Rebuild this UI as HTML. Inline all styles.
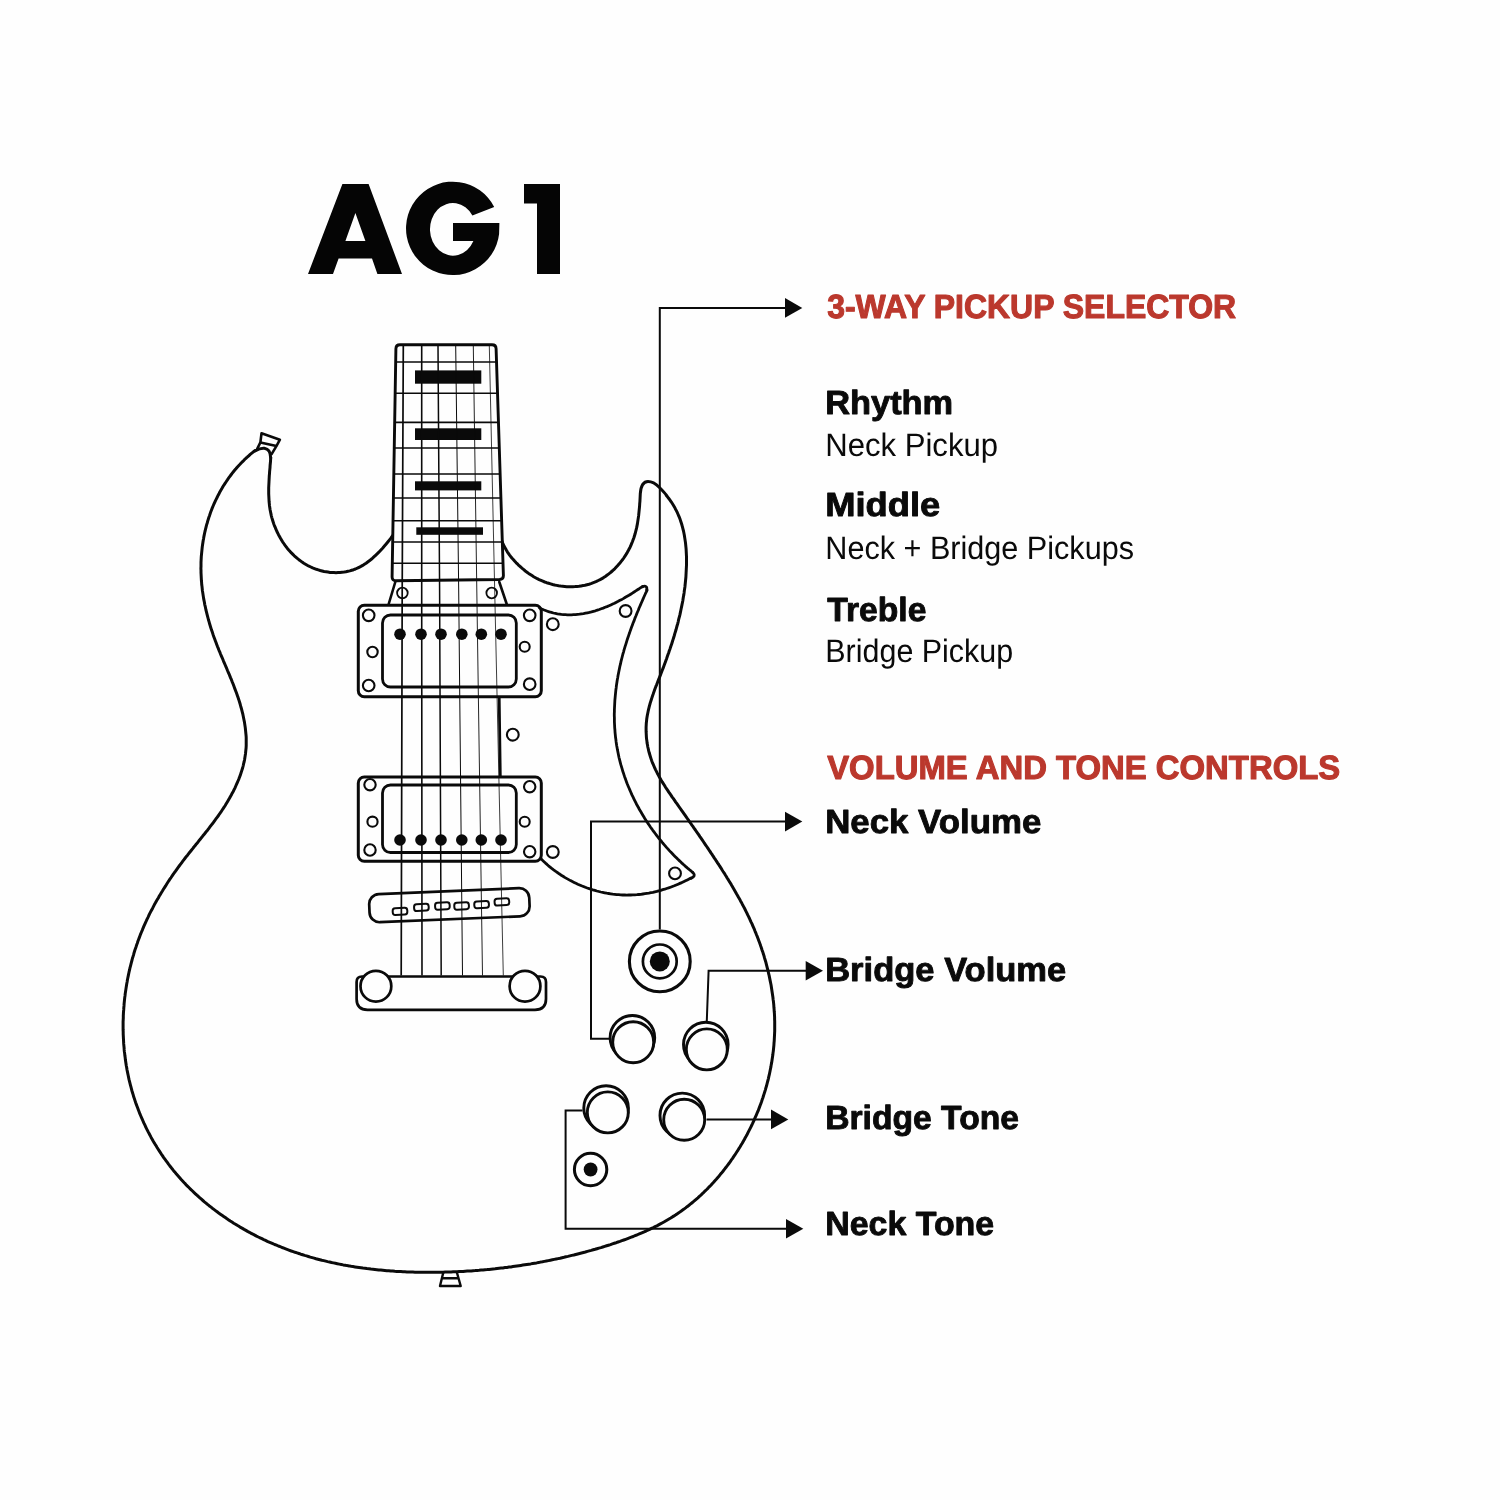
<!DOCTYPE html>
<html lang="en"><head><meta charset="utf-8"><title>AG1</title>
<style>
html,body{margin:0;padding:0;background:#fefefe;}
body{width:1500px;height:1500px;overflow:hidden;font-family:"Liberation Sans",sans-serif;}
svg{display:block;}
</style></head><body>
<svg width="1500" height="1500" viewBox="0 0 1500 1500">
<defs><filter id="nf" x="0" y="0" width="1500" height="1500" filterUnits="userSpaceOnUse"><feOffset dx="0" dy="0"/></filter></defs>
<rect width="1500" height="1500" fill="#fefefe"/>
<g fill="none" stroke="#0a0a0a" stroke-linecap="round" stroke-linejoin="round">
<path d="M502.0 541.2L502.7 543.0L503.5 544.8L504.3 546.6L505.3 548.3L506.3 550.1L507.3 551.8L508.4 553.4L509.6 555.1L510.8 556.7L512.1 558.3L513.5 559.8L514.8 561.3L516.2 562.8L517.7 564.2L519.1 565.7L520.7 567.0L522.2 568.4L523.8 569.7L525.3 571.0L527.0 572.2L528.6 573.4L530.3 574.5L532.0 575.6L533.7 576.7L535.5 577.7L537.3 578.7L539.1 579.6L541.0 580.4L542.8 581.2L544.7 582.0L546.7 582.7L548.6 583.3L550.6 583.9L552.6 584.5L554.6 585.0L556.6 585.4L558.6 585.8L560.6 586.1L562.7 586.3L564.7 586.5L566.8 586.7L568.8 586.7L570.9 586.7L572.9 586.7L575.0 586.6L577.0 586.4L579.0 586.2L581.1 585.9L583.1 585.6L585.0 585.2L587.0 584.7L589.0 584.2L590.9 583.6L592.8 582.9L594.7 582.2L596.5 581.4L598.3 580.5L600.1 579.6L601.9 578.6L603.6 577.6L605.3 576.5L606.9 575.3L608.5 574.1L610.1 572.9L611.7 571.5L613.2 570.2L614.7 568.8L616.1 567.3L617.5 565.8L618.8 564.3L620.2 562.7L621.4 561.1L622.7 559.5L623.9 557.8L625.0 556.1L626.1 554.4L627.2 552.6L628.2 550.8L629.1 549.0L630.1 547.2L630.9 545.3L631.7 543.4L632.5 541.5L633.2 539.6L633.9 537.7L634.5 535.8L635.1 533.8L635.6 531.9L636.1 529.9L636.6 527.9L637.0 525.9L637.4 523.9L637.7 521.9L638.0 519.9L638.3 517.9L638.6 515.9L638.8 513.9L639.0 511.8L639.2 509.8L639.4 507.8L639.6 505.8L639.7 503.7L639.9 501.7L640.0 499.7L640.1 497.7L640.2 495.6L640.3 493.6C640.9 486 643.5 481.6 648 481.6C652.5 481.6 656.5 484.5 659.2 487.2C662 490 664.6 492.6 666.4 495.2L666.2 495.2L667.5 496.8L668.8 498.5L670.0 500.1L671.2 501.8L672.3 503.5L673.4 505.2L674.4 506.9L675.3 508.7L676.2 510.4L677.1 512.2L677.9 514.0L678.7 515.9L679.5 517.7L680.2 519.6L680.8 521.5L681.4 523.3L682.0 525.3L682.5 527.2L683.0 529.1L683.5 531.0L683.9 533.0L684.3 535.0L684.6 536.9L684.9 538.9L685.2 540.9L685.5 542.9L685.7 544.9L685.9 546.9L686.1 548.9L686.2 550.9L686.3 552.9L686.4 554.9L686.5 556.9L686.5 559.0L686.5 561.0L686.5 563.0L686.5 565.0L686.4 567.0L686.3 569.0L686.2 571.0L686.1 573.0L686.0 575.0L685.9 577.0L685.7 579.0L685.5 581.0L685.3 583.0L685.1 585.0L684.9 587.0L684.6 588.9L684.3 590.9L684.1 592.9L683.8 594.9L683.4 596.8L683.1 598.8L682.8 600.7L682.4 602.7L682.0 604.6L681.6 606.6L681.2 608.5L680.8 610.5L680.4 612.4L680.0 614.4L679.5 616.3L679.0 618.2L678.5 620.2L678.1 622.1L677.6 624.0L677.0 626.0L676.5 627.9L676.0 629.8L675.4 631.7L674.8 633.6L674.3 635.5L673.7 637.5L673.1 639.4L672.5 641.3L671.9 643.2L671.3 645.1L670.6 647.0L670.0 648.9L669.3 650.8L668.7 652.7L668.0 654.6L667.3 656.5L666.7 658.4L666.0 660.3L665.3 662.2L664.6 664.1L663.9 666.0L663.2 667.9L662.4 669.8L661.7 671.6L661.0 673.5L660.3 675.4L659.5 677.3L658.8 679.2L658.0 681.1L657.3 683.0L656.6 684.8L655.8 686.7L655.1 688.6L654.4 690.5L653.7 692.4L653.1 694.3L652.4 696.2L651.8 698.1L651.2 700.0L650.6 701.9L650.0 703.8L649.5 705.7L649.0 707.7L648.5 709.6L648.1 711.5L647.7 713.5L647.3 715.4L647.0 717.3L646.7 719.3L646.5 721.3L646.3 723.2L646.2 725.2L646.1 727.2L646.1 729.2L646.1 731.2L646.2 733.1L646.3 735.1L646.4 737.1L646.6 739.1L646.9 741.1L647.1 743.1L647.5 745.0L647.8 747.0L648.3 749.0L648.7 750.9L649.2 752.8L649.8 754.8L650.4 756.7L651.0 758.6L651.6 760.4L652.3 762.3L653.1 764.1L653.9 766.0L654.7 767.8L655.5 769.6L656.4 771.4L657.3 773.2L658.2 774.9L659.2 776.7L660.2 778.4L661.2 780.2L662.2 781.9L663.3 783.6L664.4 785.3L665.4 787.0L666.5 788.7L667.7 790.4L668.8 792.1L669.9 793.7L671.1 795.4L672.2 797.1L673.4 798.7L674.6 800.4L675.7 802.1L676.9 803.7L678.1 805.4L679.2 807.0L680.4 808.7L681.6 810.3L682.7 811.9L683.9 813.6L685.0 815.2L686.2 816.9L687.3 818.5L688.5 820.2L689.6 821.8L690.8 823.5L691.9 825.1L693.1 826.7L694.2 828.4L695.4 830.0L696.5 831.7L697.7 833.3L698.8 834.9L699.9 836.6L701.0 838.2L702.2 839.9L703.3 841.5L704.4 843.2L705.5 844.8L706.7 846.5L707.8 848.1L708.9 849.8L710.0 851.4L711.1 853.1L712.2 854.7L713.3 856.4L714.4 858.1L715.5 859.7L716.6 861.4L717.7 863.1L718.8 864.7L719.9 866.4L721.0 868.1L722.0 869.8L723.1 871.5L724.2 873.1L725.2 874.8L726.3 876.5L727.3 878.2L728.4 879.9L729.4 881.6L730.5 883.3L731.5 885.1L732.5 886.8L733.5 888.5L734.5 890.2L735.5 891.9L736.5 893.7L737.5 895.4L738.5 897.2L739.5 898.9L740.4 900.7L741.4 902.4L742.3 904.2L743.2 905.9L744.2 907.7L745.1 909.5L746.0 911.3L746.9 913.1L747.7 914.9L748.6 916.7L749.5 918.5L750.3 920.3L751.1 922.1L752.0 923.9L752.8 925.8L753.6 927.6L754.4 929.4L755.1 931.3L755.9 933.2L756.6 935.0L757.4 936.9L758.1 938.8L758.8 940.7L759.5 942.5L760.2 944.4L760.8 946.3L761.5 948.2L762.1 950.2L762.8 952.1L763.4 954.0L764.0 955.9L764.5 957.9L765.1 959.8L765.7 961.7L766.2 963.7L766.7 965.6L767.2 967.6L767.7 969.5L768.2 971.5L768.6 973.5L769.1 975.4L769.5 977.4L769.9 979.4L770.3 981.4L770.7 983.3L771.1 985.3L771.4 987.3L771.7 989.3L772.0 991.3L772.3 993.3L772.6 995.2L772.9 997.2L773.1 999.2L773.4 1001.2L773.6 1003.2L773.8 1005.2L773.9 1007.2L774.1 1009.2L774.2 1011.2L774.4 1013.2L774.5 1015.2L774.6 1017.2L774.6 1019.2L774.7 1021.2L774.7 1023.2L774.7 1025.2L774.7 1027.2L774.7 1029.2L774.7 1031.2L774.6 1033.2L774.5 1035.2L774.4 1037.2L774.3 1039.2L774.2 1041.2L774.0 1043.2L773.9 1045.2L773.7 1047.1L773.5 1049.1L773.3 1051.1L773.0 1053.1L772.8 1055.1L772.5 1057.0L772.2 1059.0L771.9 1061.0L771.6 1062.9L771.2 1064.9L770.9 1066.9L770.5 1068.8L770.1 1070.8L769.7 1072.7L769.3 1074.7L768.8 1076.6L768.4 1078.6L767.9 1080.5L767.4 1082.4L766.9 1084.3L766.4 1086.3L765.8 1088.2L765.3 1090.1L764.7 1092.0L764.1 1093.9L763.5 1095.8L762.9 1097.7L762.2 1099.6L761.6 1101.5L760.9 1103.4L760.2 1105.3L759.5 1107.1L758.8 1109.0L758.1 1110.9L757.3 1112.7L756.5 1114.6L755.7 1116.4L754.9 1118.2L754.1 1120.1L753.3 1121.9L752.5 1123.7L751.6 1125.5L750.7 1127.3L749.8 1129.1L748.9 1130.9L748.0 1132.7L747.1 1134.5L746.1 1136.3L745.1 1138.0L744.2 1139.8L743.2 1141.5L742.2 1143.3L741.1 1145.0L740.1 1146.7L739.0 1148.4L738.0 1150.1L736.9 1151.8L735.8 1153.5L734.7 1155.2L733.5 1156.9L732.4 1158.6L731.2 1160.2L730.1 1161.9L728.9 1163.5L727.7 1165.1L726.5 1166.7L725.2 1168.3L724.0 1169.9L722.8 1171.5L721.5 1173.1L720.2 1174.6L718.9 1176.2L717.6 1177.7L716.3 1179.2L714.9 1180.7L713.6 1182.2L712.2 1183.7L710.9 1185.2L709.5 1186.6L708.1 1188.1L706.7 1189.5L705.2 1190.9L703.8 1192.3L702.3 1193.7L700.9 1195.1L699.4 1196.4L697.9 1197.8L696.4 1199.1L694.9 1200.4L693.4 1201.7L691.8 1203.0L690.3 1204.2L688.7 1205.5L687.1 1206.7L685.6 1207.9L684.0 1209.1L682.3 1210.3L680.7 1211.4L679.1 1212.6L677.4 1213.7L675.8 1214.8L674.1 1215.9L672.4 1216.9L670.7 1218.0L669.0 1219.0L667.3 1220.0L665.6 1221.0L663.9 1222.0L662.1 1223.0L660.4 1223.9L658.6 1224.9L656.9 1225.8L655.1 1226.7L653.3 1227.6L651.5 1228.4L649.7 1229.3L647.9 1230.1L646.1 1231.0L644.2 1231.8L642.4 1232.6L640.6 1233.4L638.7 1234.2L636.9 1235.0L635.0 1235.7L633.2 1236.5L631.3 1237.2L629.4 1237.9L627.6 1238.6L625.7 1239.3L623.8 1240.0L621.9 1240.7L620.0 1241.4L618.1 1242.0L616.2 1242.7L614.3 1243.3L612.4 1243.9L610.5 1244.6L608.5 1245.2L606.6 1245.8L604.7 1246.4L602.8 1247.0L600.9 1247.6L598.9 1248.1L597.0 1248.7L595.1 1249.3L593.2 1249.8L591.2 1250.4L589.3 1250.9L587.4 1251.4L585.4 1252.0L583.5 1252.5L581.5 1253.0L579.6 1253.5L577.7 1254.0L575.7 1254.5L573.8 1255.0L571.8 1255.4L569.9 1255.9L567.9 1256.4L566.0 1256.8L564.0 1257.3L562.1 1257.7L560.1 1258.2L558.2 1258.6L556.2 1259.0L554.3 1259.4L552.3 1259.8L550.4 1260.2L548.4 1260.6L546.4 1261.0L544.5 1261.4L542.5 1261.8L540.6 1262.1L538.6 1262.5L536.6 1262.9L534.7 1263.2L532.7 1263.5L530.7 1263.9L528.8 1264.2L526.8 1264.5L524.8 1264.8L522.8 1265.1L520.9 1265.4L518.9 1265.7L516.9 1266.0L514.9 1266.3L512.9 1266.6L511.0 1266.9L509.0 1267.1L507.0 1267.4L505.0 1267.6L503.0 1267.9L501.1 1268.1L499.1 1268.3L497.1 1268.5L495.1 1268.8L493.1 1269.0L491.1 1269.2L489.1 1269.4L487.1 1269.6L485.1 1269.7L483.1 1269.9L481.1 1270.1L479.1 1270.3L477.2 1270.4L475.2 1270.6L473.2 1270.7L471.2 1270.9L469.2 1271.0L467.2 1271.1L465.2 1271.2L463.1 1271.4L461.1 1271.5L459.1 1271.6L457.1 1271.7L455.1 1271.8L453.1 1271.8L451.1 1271.9L449.1 1272.0L447.1 1272.1L445.1 1272.1L443.1 1272.2L441.1 1272.2L439.1 1272.3L437.0 1272.3L435.0 1272.3L433.0 1272.3L431.0 1272.3L429.0 1272.3L427.0 1272.3L425.0 1272.3L423.0 1272.3L421.0 1272.3L418.9 1272.3L416.9 1272.2L414.9 1272.2L412.9 1272.1L410.9 1272.0L408.9 1272.0L406.9 1271.9L404.9 1271.8L402.9 1271.7L400.9 1271.6L398.8 1271.5L396.8 1271.4L394.8 1271.3L392.8 1271.1L390.8 1271.0L388.8 1270.8L386.8 1270.7L384.8 1270.5L382.8 1270.3L380.8 1270.1L378.8 1269.9L376.8 1269.7L374.9 1269.5L372.9 1269.3L370.9 1269.1L368.9 1268.8L366.9 1268.6L364.9 1268.3L362.9 1268.1L361.0 1267.8L359.0 1267.5L357.0 1267.2L355.0 1266.9L353.0 1266.6L351.1 1266.3L349.1 1265.9L347.1 1265.6L345.2 1265.2L343.2 1264.9L341.3 1264.5L339.3 1264.1L337.3 1263.7L335.4 1263.3L333.4 1262.9L331.5 1262.5L329.6 1262.0L327.6 1261.6L325.7 1261.1L323.7 1260.6L321.8 1260.2L319.9 1259.7L317.9 1259.2L316.0 1258.7L314.1 1258.1L312.2 1257.6L310.3 1257.1L308.4 1256.5L306.5 1255.9L304.6 1255.4L302.7 1254.8L300.8 1254.2L298.9 1253.5L297.0 1252.9L295.1 1252.3L293.2 1251.6L291.3 1251.0L289.5 1250.3L287.6 1249.6L285.7 1248.9L283.9 1248.2L282.0 1247.5L280.2 1246.7L278.3 1246.0L276.5 1245.2L274.6 1244.5L272.8 1243.7L271.0 1242.9L269.1 1242.1L267.3 1241.3L265.5 1240.4L263.7 1239.6L261.9 1238.7L260.1 1237.8L258.3 1237.0L256.5 1236.1L254.7 1235.1L252.9 1234.2L251.2 1233.3L249.4 1232.3L247.6 1231.4L245.9 1230.4L244.1 1229.4L242.4 1228.4L240.6 1227.4L238.9 1226.3L237.2 1225.3L235.5 1224.2L233.7 1223.2L232.0 1222.1L230.3 1221.0L228.7 1219.9L227.0 1218.8L225.3 1217.6L223.7 1216.5L222.0 1215.3L220.4 1214.2L218.7 1213.0L217.1 1211.8L215.5 1210.6L213.9 1209.4L212.3 1208.2L210.7 1206.9L209.1 1205.7L207.5 1204.4L206.0 1203.1L204.4 1201.8L202.9 1200.5L201.4 1199.2L199.9 1197.9L198.4 1196.5L196.9 1195.2L195.4 1193.8L193.9 1192.4L192.5 1191.0L191.0 1189.6L189.6 1188.2L188.2 1186.8L186.7 1185.4L185.4 1183.9L184.0 1182.5L182.6 1181.0L181.2 1179.5L179.9 1178.0L178.6 1176.5L177.3 1175.0L176.0 1173.5L174.7 1171.9L173.4 1170.4L172.1 1168.8L170.9 1167.2L169.7 1165.7L168.5 1164.1L167.3 1162.4L166.1 1160.8L164.9 1159.2L163.7 1157.6L162.6 1155.9L161.5 1154.3L160.4 1152.6L159.3 1150.9L158.2 1149.2L157.1 1147.5L156.1 1145.8L155.0 1144.1L154.0 1142.4L153.0 1140.7L152.0 1138.9L151.0 1137.2L150.1 1135.4L149.1 1133.6L148.2 1131.9L147.3 1130.1L146.4 1128.3L145.5 1126.5L144.7 1124.7L143.8 1122.9L143.0 1121.0L142.2 1119.2L141.4 1117.4L140.6 1115.5L139.8 1113.7L139.1 1111.8L138.4 1110.0L137.7 1108.1L137.0 1106.2L136.3 1104.4L135.6 1102.5L135.0 1100.6L134.4 1098.7L133.7 1096.8L133.2 1094.9L132.6 1093.0L132.0 1091.0L131.5 1089.1L131.0 1087.2L130.5 1085.3L130.0 1083.3L129.5 1081.4L129.0 1079.4L128.6 1077.5L128.2 1075.5L127.8 1073.6L127.4 1071.6L127.0 1069.7L126.7 1067.7L126.3 1065.7L126.0 1063.8L125.7 1061.8L125.4 1059.8L125.2 1057.8L124.9 1055.8L124.7 1053.9L124.4 1051.9L124.2 1049.9L124.1 1047.9L123.9 1045.9L123.7 1043.9L123.6 1041.9L123.5 1039.9L123.4 1037.9L123.3 1035.9L123.2 1033.9L123.2 1031.9L123.1 1029.9L123.1 1027.9L123.1 1025.9L123.1 1023.9L123.1 1021.9L123.2 1019.9L123.3 1017.9L123.3 1015.9L123.4 1013.9L123.5 1011.9L123.7 1009.9L123.8 1007.9L124.0 1005.9L124.1 1003.9L124.3 1001.9L124.5 999.9L124.7 997.9L125.0 995.9L125.2 993.9L125.5 991.9L125.8 989.9L126.1 987.9L126.4 986.0L126.7 984.0L127.1 982.0L127.4 980.0L127.8 978.0L128.2 976.1L128.6 974.1L129.0 972.2L129.5 970.2L129.9 968.2L130.4 966.3L130.9 964.3L131.4 962.4L131.9 960.5L132.4 958.5L133.0 956.6L133.6 954.7L134.1 952.7L134.7 950.8L135.3 948.9L136.0 947.0L136.6 945.1L137.3 943.2L137.9 941.3L138.6 939.4L139.3 937.6L140.0 935.7L140.7 933.8L141.5 932.0L142.3 930.1L143.0 928.3L143.8 926.4L144.6 924.6L145.4 922.8L146.3 920.9L147.1 919.1L148.0 917.3L148.8 915.5L149.7 913.7L150.6 911.9L151.5 910.2L152.5 908.4L153.4 906.6L154.3 904.8L155.3 903.1L156.3 901.3L157.3 899.6L158.3 897.9L159.3 896.1L160.3 894.4L161.3 892.7L162.4 891.0L163.4 889.3L164.5 887.6L165.6 885.9L166.6 884.2L167.7 882.5L168.8 880.8L169.9 879.2L171.1 877.5L172.2 875.8L173.3 874.2L174.5 872.5L175.7 870.9L176.8 869.3L178.0 867.6L179.2 866.0L180.4 864.4L181.6 862.8L182.8 861.2L184.0 859.6L185.2 858.0L186.4 856.4L187.7 854.9L188.9 853.3L190.2 851.7L191.4 850.2L192.7 848.6L193.9 847.0L195.2 845.5L196.4 843.9L197.7 842.4L198.9 840.8L200.2 839.3L201.4 837.7L202.7 836.1L204.0 834.6L205.2 833.0L206.4 831.4L207.7 829.9L208.9 828.3L210.1 826.7L211.3 825.1L212.6 823.5L213.8 821.9L214.9 820.3L216.1 818.7L217.3 817.1L218.5 815.5L219.6 813.8L220.8 812.2L221.9 810.5L223.0 808.8L224.1 807.2L225.2 805.5L226.2 803.8L227.3 802.0L228.3 800.3L229.3 798.6L230.3 796.8L231.3 795.0L232.2 793.2L233.2 791.5L234.1 789.7L235.0 787.8L235.8 786.0L236.6 784.2L237.4 782.3L238.2 780.5L239.0 778.6L239.7 776.7L240.4 774.9L241.0 773.0L241.6 771.1L242.2 769.2L242.8 767.2L243.3 765.3L243.7 763.4L244.2 761.5L244.6 759.5L244.9 757.6L245.2 755.6L245.5 753.7L245.7 751.7L245.9 749.7L246.1 747.8L246.2 745.8L246.2 743.8L246.2 741.8L246.2 739.8L246.2 737.8L246.1 735.8L245.9 733.9L245.7 731.9L245.5 729.9L245.3 727.9L245.0 725.9L244.7 723.9L244.4 721.9L244.0 720.0L243.6 718.0L243.2 716.0L242.8 714.0L242.3 712.1L241.8 710.1L241.3 708.2L240.7 706.2L240.2 704.3L239.6 702.3L239.0 700.4L238.4 698.5L237.7 696.6L237.1 694.7L236.4 692.8L235.7 690.9L235.0 689.1L234.3 687.2L233.6 685.3L232.9 683.5L232.1 681.6L231.4 679.7L230.6 677.9L229.9 676.1L229.1 674.2L228.3 672.4L227.5 670.5L226.8 668.7L226.0 666.9L225.2 665.0L224.4 663.2L223.6 661.3L222.9 659.5L222.1 657.7L221.3 655.8L220.5 654.0L219.8 652.1L219.0 650.3L218.3 648.4L217.5 646.6L216.8 644.7L216.1 642.8L215.4 641.0L214.7 639.1L214.0 637.2L213.3 635.3L212.7 633.4L212.1 631.5L211.4 629.6L210.8 627.7L210.2 625.8L209.6 623.8L209.1 621.9L208.5 620.0L208.0 618.0L207.5 616.1L207.0 614.1L206.5 612.2L206.0 610.2L205.6 608.3L205.2 606.3L204.7 604.3L204.4 602.3L204.0 600.4L203.6 598.4L203.3 596.4L203.0 594.4L202.7 592.4L202.4 590.5L202.2 588.5L202.0 586.5L201.7 584.5L201.6 582.5L201.4 580.5L201.3 578.5L201.2 576.5L201.1 574.5L201.0 572.5L201.0 570.5L200.9 568.5L201.0 566.4L201.0 564.4L201.0 562.4L201.1 560.4L201.2 558.4L201.3 556.4L201.5 554.4L201.7 552.4L201.9 550.4L202.1 548.4L202.3 546.5L202.6 544.5L202.9 542.5L203.2 540.5L203.6 538.5L203.9 536.6L204.3 534.6L204.7 532.7L205.2 530.7L205.6 528.8L206.1 526.8L206.6 524.9L207.2 523.0L207.7 521.1L208.3 519.2L208.9 517.3L209.6 515.4L210.2 513.5L210.9 511.6L211.6 509.7L212.3 507.9L213.1 506.0L213.9 504.2L214.7 502.4L215.5 500.6L216.4 498.8L217.3 497.0L218.2 495.2L219.1 493.5L220.0 491.7L221.0 490.0L222.0 488.3L223.0 486.5L224.1 484.8L225.2 483.2L226.3 481.5L227.4 479.9L228.5 478.2L229.7 476.6L230.9 475.0L232.1 473.4L233.4 471.8L234.6 470.3L235.9 468.8L237.2 467.2L238.6 465.7L240.0 464.3L241.4 462.8L242.8 461.4L244.2 459.9L245.7 458.5L247.2 457.2L248.7 455.8L250.2 454.4L251.8 453.1L253.4 451.8L255.0 450.6" stroke-width="3.0"/>
<path d="M255 450.9C259 448.8 262 448 264.3 448.3C268.5 449 270.6 452.5 270.6 457.5" stroke-width="3.0"/>
<path d="M270.8 457.5L270.6 459.5L270.5 461.5L270.3 463.5L270.1 465.5L270.0 467.6L269.8 469.6L269.6 471.6L269.5 473.6L269.3 475.6L269.2 477.6L269.1 479.6L269.0 481.7L268.9 483.7L268.8 485.7L268.7 487.7L268.7 489.7L268.7 491.7L268.7 493.7L268.8 495.7L268.9 497.7L269.0 499.7L269.1 501.7L269.3 503.7L269.5 505.7L269.8 507.7L270.1 509.7L270.5 511.7L270.9 513.6L271.3 515.6L271.8 517.6L272.4 519.5L273.0 521.5L273.6 523.4L274.3 525.3L275.1 527.2L275.9 529.1L276.7 531.0L277.6 532.9L278.5 534.7L279.5 536.5L280.5 538.3L281.5 540.0L282.6 541.8L283.8 543.5L284.9 545.1L286.2 546.8L287.4 548.4L288.7 549.9L290.1 551.4L291.4 552.9L292.9 554.4L294.3 555.8L295.8 557.1L297.3 558.4L298.9 559.7L300.5 560.9L302.1 562.1L303.8 563.2L305.5 564.2L307.2 565.2L309.0 566.2L310.8 567.0L312.6 567.9L314.5 568.6L316.4 569.3L318.3 569.9L320.2 570.5L322.1 571.0L324.1 571.5L326.1 571.8L328.0 572.1L330.0 572.4L332.0 572.5L334.0 572.6L336.0 572.7L338.0 572.6L340.0 572.5L342.0 572.3L344.0 572.1L345.9 571.8L347.9 571.3L349.8 570.9L351.7 570.3L353.6 569.7L355.5 569.0L357.3 568.2L359.1 567.3L360.9 566.4L362.7 565.4L364.4 564.3L366.1 563.2L367.7 562.0L369.4 560.7L371.0 559.5L372.6 558.1L374.1 556.7L375.6 555.3L377.1 553.9L378.6 552.4L380.0 550.9L381.4 549.4L382.8 547.9L384.2 546.3L385.5 544.8L386.8 543.2L388.0 541.7L389.3 540.1L390.5 538.6L391.7 537.0L392.8 535.5" stroke-width="3.0"/>
<path d="M257.2 448.8L260.4 442.4L261.5 433.3L279.9 439.7L276.4 446.1L271.6 454.1M260.4 442.4L276.4 446.1" stroke-width="2.6"/>
<path d="M443.3 1272.5L440 1286L460.7 1286L456.9 1272.5M442.2 1278.3L458.3 1278.3" stroke-width="2.4"/>
<path d="M400 344.7L492 344.7Q496 344.7 496.1 348.7L503.4 575.5Q503.5 579.3 499.5 579.5L396 580.8Q392 580.8 392.1 576.8L395.9 348.7Q396 344.7 400 344.7Z" stroke-width="2.9" fill="#fefefe"/>
<path d="M395.7 362.0L496.5 362.0" stroke-width="1.6"/>
<path d="M395.2 393.3L497.5 393.3" stroke-width="1.6"/>
<path d="M394.7 422.4L498.4 422.4" stroke-width="1.6"/>
<path d="M394.3 448.0L499.2 448.0" stroke-width="1.6"/>
<path d="M393.9 474.0L500.1 474.0" stroke-width="1.6"/>
<path d="M393.5 498.0L500.8 498.0" stroke-width="1.6"/>
<path d="M393.2 520.7L501.5 520.7" stroke-width="1.6"/>
<path d="M392.8 542.0L502.2 542.0" stroke-width="1.6"/>
<path d="M392.5 563.3L502.9 563.3" stroke-width="1.6"/>
<path d="M395.3 582L388.7 604M499.3 582L506.7 604" stroke-width="2.6"/>
<circle cx="402.4" cy="593" r="5.3" stroke-width="1.8"/>
<circle cx="491.7" cy="593" r="5.3" stroke-width="1.8"/>
</g>
<g fill="#0a0a0a">
<rect x="415.0" y="370.4" width="66.3" height="13.3"/>
<rect x="415.0" y="428.3" width="66.3" height="11.7"/>
<rect x="415.0" y="481.3" width="66.3" height="9.1"/>
<rect x="416.3" y="527.3" width="66.7" height="7.5"/>
</g>
<g fill="#fefefe" stroke="#0a0a0a">
<rect x="358.3" y="605.3" width="183" height="91.4" rx="6" stroke-width="3"/>
<rect x="382.5" y="615.0" width="133.8" height="72.0" rx="8" stroke-width="2.8"/>
<rect x="358.3" y="777.0" width="183" height="84.3" rx="6" stroke-width="3"/>
<rect x="382.5" y="785.0" width="133.8" height="67.5" rx="8" stroke-width="2.8"/>
</g>
<g fill="none" stroke="#0a0a0a" stroke-width="2.1">
<circle cx="368.7" cy="615.3" r="5.8"/>
<circle cx="372.5" cy="652.0" r="5.2"/>
<circle cx="368.7" cy="685.5" r="5.8"/>
<circle cx="529.7" cy="615.3" r="5.8"/>
<circle cx="524.7" cy="646.7" r="5.0"/>
<circle cx="529.7" cy="684.2" r="5.8"/>
<circle cx="370.0" cy="784.7" r="5.7"/>
<circle cx="372.5" cy="821.7" r="5.1"/>
<circle cx="370.0" cy="850.0" r="5.7"/>
<circle cx="529.7" cy="786.7" r="5.7"/>
<circle cx="524.7" cy="821.7" r="5.0"/>
<circle cx="529.7" cy="851.7" r="5.7"/>
<circle cx="552.8" cy="624.2" r="5.9"/>
<circle cx="552.8" cy="852.0" r="5.9"/>
<circle cx="512.8" cy="734.7" r="5.9"/>
<circle cx="625.6" cy="611.0" r="5.9"/>
<circle cx="675.0" cy="873.4" r="5.9"/>
</g>
<g fill="#0a0a0a">
<circle cx="400.0" cy="634.2" r="5.8"/>
<circle cx="421.0" cy="634.2" r="5.8"/>
<circle cx="441.0" cy="634.2" r="5.8"/>
<circle cx="461.8" cy="634.2" r="5.8"/>
<circle cx="481.3" cy="634.2" r="5.8"/>
<circle cx="501.0" cy="634.2" r="5.8"/>
<circle cx="400.0" cy="840.0" r="5.8"/>
<circle cx="421.0" cy="840.0" r="5.8"/>
<circle cx="441.0" cy="840.0" r="5.8"/>
<circle cx="461.8" cy="840.0" r="5.8"/>
<circle cx="481.3" cy="840.0" r="5.8"/>
<circle cx="501.0" cy="840.0" r="5.8"/>
</g>
<g fill="none" stroke="#0a0a0a" stroke-width="2.8" stroke-linecap="round" stroke-linejoin="round">
<path d="M539.6 608.0L541.5 608.9L543.5 609.8L545.5 610.5L547.4 611.2L549.4 611.9L551.4 612.4L553.4 613.0L555.4 613.4L557.4 613.8L559.4 614.1L561.4 614.4L563.4 614.6L565.4 614.7L567.4 614.8L569.5 614.8L571.5 614.8L573.5 614.7L575.5 614.6L577.5 614.4L579.5 614.2L581.5 613.9L583.5 613.6L585.5 613.2L587.5 612.8L589.5 612.4L591.5 611.9L593.4 611.3L595.4 610.8L597.4 610.1L599.3 609.5L601.2 608.8L603.2 608.1L605.1 607.3L607.0 606.6L608.9 605.8L610.8 604.9L612.7 604.0L614.5 603.2L616.4 602.2L618.2 601.3L620.0 600.3L621.9 599.4L623.7 598.4L625.4 597.3L627.2 596.3L629.0 595.3L630.7 594.2L632.4 593.1L634.1 592.0L635.8 590.9L637.5 589.8L639.2 588.7L640.8 587.6L642.5 586.5"/>
<path d="M642.7 586.7C645.2 585.4 647.6 586.6 646.6 589.8"/>
<path d="M647.1 590.1L646.3 591.9L645.4 593.7L644.6 595.5L643.8 597.3L643.0 599.1L642.2 601.0L641.4 602.8L640.6 604.6L639.8 606.5L639.0 608.3L638.3 610.2L637.5 612.0L636.7 613.9L636.0 615.8L635.2 617.6L634.5 619.5L633.8 621.4L633.0 623.3L632.3 625.2L631.6 627.1L630.9 629.0L630.2 630.9L629.6 632.8L628.9 634.7L628.3 636.6L627.6 638.5L627.0 640.4L626.4 642.4L625.8 644.3L625.2 646.2L624.6 648.2L624.0 650.1L623.5 652.1L622.9 654.0L622.4 656.0L621.9 658.0L621.4 659.9L620.9 661.9L620.5 663.9L620.0 665.8L619.6 667.8L619.2 669.8L618.8 671.8L618.4 673.8L618.0 675.8L617.7 677.7L617.3 679.7L617.0 681.7L616.7 683.7L616.4 685.7L616.2 687.7L615.9 689.7L615.7 691.7L615.5 693.7L615.3 695.7L615.1 697.8L614.9 699.8L614.8 701.8L614.7 703.8L614.6 705.8L614.5 707.8L614.4 709.8L614.4 711.8L614.3 713.8L614.3 715.8L614.4 717.8L614.4 719.8L614.4 721.8L614.5 723.8L614.6 725.8L614.7 727.8L614.9 729.8L615.0 731.8L615.2 733.8L615.4 735.8L615.6 737.8L615.9 739.8L616.1 741.7L616.4 743.7L616.7 745.7L617.1 747.7L617.4 749.6L617.8 751.6L618.2 753.6L618.6 755.5L619.0 757.5L619.5 759.4L620.0 761.4L620.5 763.3L621.0 765.2L621.6 767.2L622.2 769.1L622.7 771.0L623.4 772.9L624.0 774.8L624.6 776.7L625.3 778.6L626.0 780.5L626.7 782.4L627.4 784.3L628.2 786.2L629.0 788.0L629.8 789.9L630.6 791.7L631.4 793.6L632.2 795.4L633.1 797.2L634.0 799.1L634.9 800.9L635.8 802.7L636.7 804.5L637.7 806.2L638.7 808.0L639.6 809.8L640.7 811.6L641.7 813.3L642.7 815.0L643.8 816.8L644.8 818.5L645.9 820.2L647.0 821.9L648.1 823.6L649.3 825.3L650.4 827.0L651.6 828.6L652.8 830.3L654.0 831.9L655.2 833.5L656.4 835.1L657.6 836.7L658.9 838.3L660.2 839.9L661.5 841.5L662.7 843.0L664.1 844.6L665.4 846.1L666.7 847.6L668.1 849.1L669.4 850.6L670.8 852.1L672.2 853.5L673.6 855.0L675.0 856.4L676.4 857.8L677.9 859.3L679.3 860.6L680.8 862.0L682.2 863.4L683.7 864.7L685.2 866.1L686.7 867.4L688.2 868.7L689.8 870.0L691.3 871.2L692.8 872.5"/>
<path d="M692.8 872.6C695.3 875 694.6 876.8 691 878.4"/>
<path d="M690.9 878.1L689.1 879.0L687.3 879.9L685.5 880.8L683.6 881.7L681.8 882.6L679.9 883.4L678.1 884.2L676.2 885.0L674.3 885.8L672.4 886.5L670.5 887.2L668.6 887.9L666.6 888.5L664.7 889.2L662.7 889.7L660.8 890.3L658.8 890.8L656.8 891.4L654.9 891.8L652.9 892.3L650.9 892.7L648.9 893.1L646.9 893.4L644.9 893.7L642.9 894.0L640.9 894.3L638.9 894.5L636.9 894.7L634.9 894.8L632.8 894.9L630.8 895.0L628.8 895.0L626.8 895.1L624.8 895.0L622.7 895.0L620.7 894.9L618.7 894.7L616.7 894.6L614.7 894.3L612.7 894.1L610.7 893.8L608.7 893.5L606.7 893.2L604.7 892.8L602.7 892.4L600.8 892.0L598.8 891.5L596.8 891.0L594.9 890.4L592.9 889.9L591.0 889.3L589.1 888.6L587.2 888.0L585.3 887.3L583.4 886.5L581.5 885.8L579.6 885.0L577.8 884.2L575.9 883.3L574.1 882.4L572.3 881.5L570.5 880.6L568.7 879.6L566.9 878.6L565.1 877.6L563.4 876.5L561.7 875.5L560.0 874.3L558.3 873.2L556.6 872.0L555.0 870.8L553.3 869.6L551.7 868.4L550.1 867.1L548.5 865.8L547.0 864.4L545.5 863.1L544.0 861.7L542.5 860.3L541.0 858.8"/>
<path d="M499.2 697.5L500.3 776"/>
</g>
<g fill="#fefefe" stroke="#0a0a0a">
<rect x="369.3" y="891.1" width="160.2" height="28.2" rx="10" stroke-width="2.7" transform="rotate(-2.4 449.4 905.2)"/>
<rect x="392.7" y="907.9" width="14.6" height="6.8" rx="2.6" stroke-width="2" transform="rotate(-3 400.0 911.3)"/>
<rect x="414.1" y="904.0" width="14.6" height="6.8" rx="2.6" stroke-width="2" transform="rotate(-3 421.4 907.4)"/>
<rect x="435.1" y="902.6" width="14.6" height="6.8" rx="2.6" stroke-width="2" transform="rotate(-3 442.4 906.0)"/>
<rect x="454.3" y="902.6" width="14.6" height="6.8" rx="2.6" stroke-width="2" transform="rotate(-3 461.6 906.0)"/>
<rect x="474.3" y="901.2" width="14.6" height="6.8" rx="2.6" stroke-width="2" transform="rotate(-3 481.6 904.6)"/>
<rect x="494.6" y="898.5" width="14.6" height="6.8" rx="2.6" stroke-width="2" transform="rotate(-3 501.9 901.9)"/>
</g>
<g fill="#fefefe" stroke="#0a0a0a" stroke-width="2.7">
<path d="M362 976.5L540.5 976.5Q546 976.5 546 982L546 999Q546 1009.8 535 1009.8L367.5 1009.8Q356.6 1009.8 356.6 999L356.6 982Q356.6 976.5 362 976.5Z"/>
<circle cx="375.9" cy="986.2" r="15.4"/>
<circle cx="525" cy="986.2" r="15.4"/>
</g>
<g fill="none" stroke="#0a0a0a">
<path d="M403.3 345.5L402.2 590L401.2 975.5" stroke-width="1.7"/>
<path d="M421.7 345.5L421.7 590L422.0 975.5" stroke-width="1.6"/>
<path d="M438.0 345.5L439.6 590L441.2 975.5" stroke-width="1.5"/>
<path d="M455.7 345.5L458.7 590L462.5 975.5" stroke-width="1.0"/>
<path d="M473.3 345.5L476.8 590L482.5 975.5" stroke-width="0.9"/>
<path d="M489.3 345.5L494.7 590L503.3 975.5" stroke-width="0.8"/>
</g>
<g fill="#fefefe" stroke="#0a0a0a">
<circle cx="659.8" cy="961.4" r="30.4" stroke-width="3.1"/>
<circle cx="659.8" cy="961.4" r="16.9" stroke-width="2.7"/>
<circle cx="659.8" cy="961.4" r="10" fill="#0a0a0a" stroke="none"/>
<circle cx="632.4" cy="1037.8" r="22.3" stroke-width="2.9"/>
<circle cx="633.2" cy="1042.2" r="20.5" stroke-width="2.9"/>
<circle cx="705.8" cy="1044.6" r="22.3" stroke-width="2.9"/>
<circle cx="706.8" cy="1049.4" r="20.5" stroke-width="2.9"/>
<circle cx="606.1" cy="1108.0" r="22.3" stroke-width="2.9"/>
<circle cx="607.8" cy="1112.4" r="20.5" stroke-width="2.9"/>
<circle cx="682.3" cy="1115.4" r="22.3" stroke-width="2.9"/>
<circle cx="684.2" cy="1119.8" r="20.5" stroke-width="2.9"/>
<circle cx="590.6" cy="1169.5" r="16.2" stroke-width="3"/>
<circle cx="590.6" cy="1169.5" r="6.9" fill="#0a0a0a" stroke="none"/>
</g>
<g fill="none" stroke="#0a0a0a" stroke-width="2" stroke-linejoin="miter">
<path d="M659.8 929.5L659.8 307.9L786 307.9"/>
<path d="M609 1038.8L591 1038.8L591 821.5L786 821.5"/>
<path d="M706.8 1021L708.6 970.8L808 970.8"/>
<path d="M706.5 1119.6L772 1119.6"/>
<path d="M582.6 1110.5L565.6 1110.5L565.6 1228.8L786 1228.8"/>
</g>
<g fill="#0a0a0a">
<path d="M802.3 307.9L785.0 298.1L785.0 317.7Z"/>
<path d="M802.3 821.6L785.0 811.8L785.0 831.4Z"/>
<path d="M823.0 970.8L805.7 961.0L805.7 980.6Z"/>
<path d="M788.3 1119.4L771.0 1109.6L771.0 1129.2Z"/>
<path d="M803.3 1228.8L786.0 1219.0L786.0 1238.6Z"/>
</g>
<g fill="#050505">
<path fill-rule="evenodd" d="M308 274L342.4 184L368.6 184L402 274L377.4 274L372 258.6L338.6 258.6L333 274ZM355.4 213L345.4 241L365.4 241Z"/>
<path d="M494.2 206.9A46.7 46.7 0 1 0 499.1 233.9L499.4 223.0L453.0 223.0L453.0 241.0L473.4 241.0A22.9 26.3 0 1 1 472.4 215.6Z"/>
<path d="M524 184L560 184L560 274L537 274L537 203.6L524 203.6Z"/>
</g>
<g font-family="'Liberation Sans', sans-serif" text-rendering="geometricPrecision" filter="url(#nf)">
<text x="827.2" y="318.0" font-size="33.5" font-weight="bold" fill="#bb382d" stroke="#bb382d" stroke-width="1.10" stroke-linejoin="round" textLength="409.0" lengthAdjust="spacingAndGlyphs">3-WAY PICKUP SELECTOR</text>
<text x="827.2" y="778.8" font-size="33.5" font-weight="bold" fill="#bb382d" stroke="#bb382d" stroke-width="1.10" stroke-linejoin="round" textLength="513.0" lengthAdjust="spacingAndGlyphs">VOLUME AND TONE CONTROLS</text>
<text x="825.2" y="414.0" font-size="33.5" font-weight="bold" fill="#0a0a0a" stroke="#0a0a0a" stroke-width="0.90" stroke-linejoin="round" textLength="128.0" lengthAdjust="spacingAndGlyphs">Rhythm</text>
<text x="825.2" y="516.0" font-size="33.5" font-weight="bold" fill="#0a0a0a" stroke="#0a0a0a" stroke-width="0.90" stroke-linejoin="round" textLength="115.1" lengthAdjust="spacingAndGlyphs">Middle</text>
<text x="827.2" y="620.8" font-size="33.5" font-weight="bold" fill="#0a0a0a" stroke="#0a0a0a" stroke-width="0.90" stroke-linejoin="round" textLength="99.2" lengthAdjust="spacingAndGlyphs">Treble</text>
<text x="825.3" y="456.0" font-size="32.5" font-weight="normal" fill="#0a0a0a" textLength="172.7" lengthAdjust="spacingAndGlyphs">Neck Pickup</text>
<text x="825.3" y="558.8" font-size="32.5" font-weight="normal" fill="#0a0a0a" textLength="308.7" lengthAdjust="spacingAndGlyphs">Neck + Bridge Pickups</text>
<text x="825.3" y="662.0" font-size="32.5" font-weight="normal" fill="#0a0a0a" textLength="187.9" lengthAdjust="spacingAndGlyphs">Bridge Pickup</text>
<text x="825.2" y="832.8" font-size="33.5" font-weight="bold" fill="#0a0a0a" stroke="#0a0a0a" stroke-width="0.90" stroke-linejoin="round" textLength="216.1" lengthAdjust="spacingAndGlyphs">Neck Volume</text>
<text x="825.2" y="980.8" font-size="33.5" font-weight="bold" fill="#0a0a0a" stroke="#0a0a0a" stroke-width="0.90" stroke-linejoin="round" textLength="241.1" lengthAdjust="spacingAndGlyphs">Bridge Volume</text>
<text x="825.2" y="1128.8" font-size="33.5" font-weight="bold" fill="#0a0a0a" stroke="#0a0a0a" stroke-width="0.90" stroke-linejoin="round" textLength="193.8" lengthAdjust="spacingAndGlyphs">Bridge Tone</text>
<text x="825.2" y="1234.8" font-size="33.5" font-weight="bold" fill="#0a0a0a" stroke="#0a0a0a" stroke-width="0.90" stroke-linejoin="round" textLength="169.0" lengthAdjust="spacingAndGlyphs">Neck Tone</text>
</g>
</svg>
</body></html>
